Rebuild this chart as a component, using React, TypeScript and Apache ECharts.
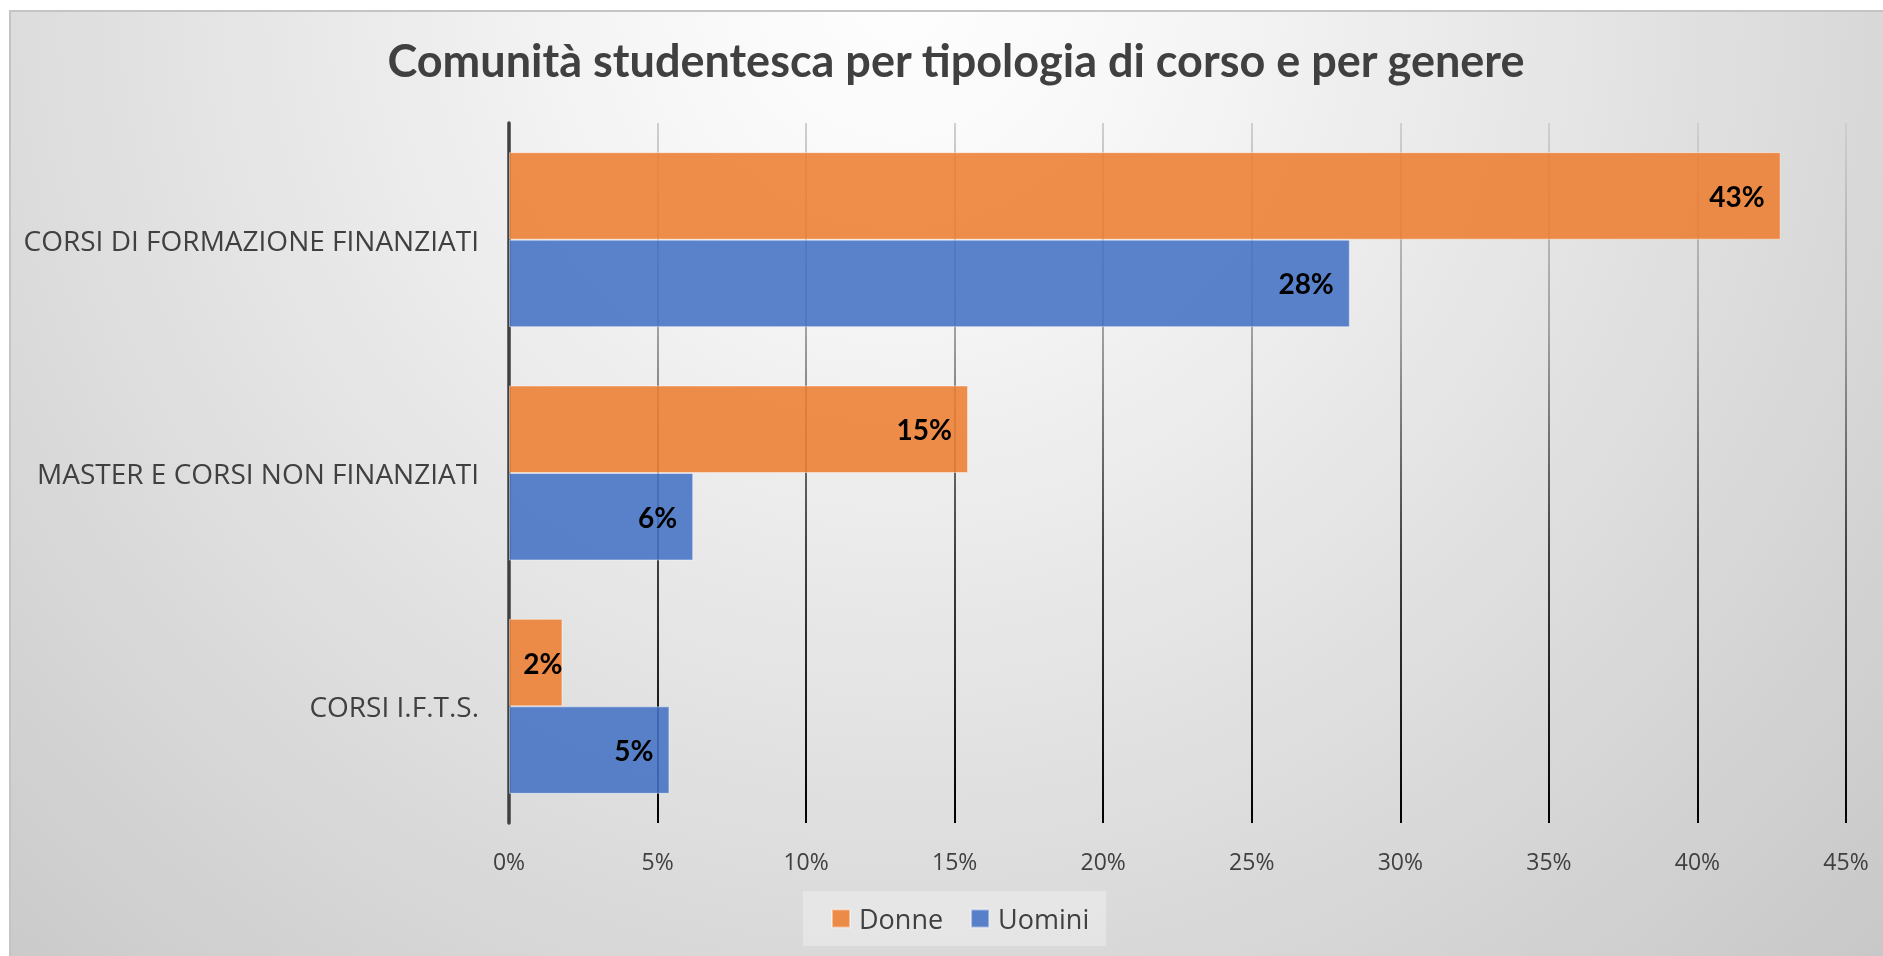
import React, { useEffect, useRef } from "react";
import * as echarts from "echarts";

const categories = [
  "CORSI DI FORMAZIONE FINANZIATI",
  "MASTER E CORSI NON FINANZIATI",
  "CORSI I.F.T.S.",
];
const donne = [42.8, 15.45, 1.8];
const uomini = [28.3, 6.2, 5.4];
const seriesNames = ["Donne", "Uomini"];
const axisMax = 45;
const axisStep = 5;
const titleText = "Comunità studentesca per tipologia di corso e per genere";

export default function App() {
  const ref = useRef<HTMLDivElement>(null);

  useEffect(() => {
    if (!ref.current) return;
    const chart = echarts.init(ref.current, undefined, { renderer: "svg" });

    const gridGrad = new echarts.graphic.LinearGradient(
      0, 115, 0, 815,
      [
        { offset: 0, color: "#cfcfcf" },
        { offset: 0.3, color: "#a0a0a0" },
        { offset: 0.6, color: "#444444" },
        { offset: 1, color: "#000000" },
      ],
      true
    );

    const labelBase = {
      show: true,
      position: "insideRight",
      distance: 16,
      fontFamily: "Lato",
      fontWeight: "bold",
      fontSize: 28,
      color: "#000000",
      formatter: (p: any) => Math.round(p.value) + "%",
    };

    const mkData = (arr: number[]) =>
      arr.map((v) => (v < 3 ? { value: v, label: { distance: 0 } } : v));

    chart.setOption({
      animation: false,
      backgroundColor: "transparent",
      title: {
        text: titleText,
        left: 943,
        top: 24,
        textAlign: "center",
        textStyle: {
          fontFamily: "Lato",
          fontWeight: "bold",
          fontSize: 45,
          color: "#404040",
        },
      },
      legend: {
        data: seriesNames,
        left: 795,
        top: 883,
        padding: [14, 17, 14, 28],
        backgroundColor: "rgba(255,255,255,0.3)",
        itemWidth: 18,
        itemHeight: 18,
        itemGap: 27,
        icon: "rect",
        textStyle: {
          fontFamily: "Open Sans",
          fontSize: 27,
          color: "#404040",
          padding: [0, 0, 0, 4],
        },
      },
      grid: { left: 501, right: 37, top: 115, bottom: 133, containLabel: false },
      xAxis: {
        type: "value",
        min: 0,
        max: axisMax,
        interval: axisStep,
        axisLine: { show: false },
        axisTick: { show: false },
        axisLabel: {
          formatter: "{value}%",
          fontFamily: "Open Sans",
          fontSize: 23,
          color: "#404040",
          margin: 26,
        },
        splitLine: { show: true, lineStyle: { color: gridGrad, width: 2 } },
      },
      yAxis: {
        type: "category",
        data: categories,
        inverse: true,
        axisTick: { show: false },
        axisLine: { show: true, lineStyle: { color: "#404040", width: 3.5 } },
        axisLabel: {
          fontFamily: "Open Sans",
          fontSize: 28,
          color: "#404040",
          margin: 30,
        },
      },
      series: [
        {
          name: seriesNames[0],
          type: "bar",
          data: mkData(donne),
          barGap: "0%",
          barCategoryGap: "25%",
          itemStyle: {
            color: "rgba(237,125,49,0.88)",
            borderColor: "rgba(255,255,255,0.45)",
            borderWidth: 1,
          },
          label: labelBase,
        },
        {
          name: seriesNames[1],
          type: "bar",
          data: mkData(uomini),
          barGap: "0%",
          barCategoryGap: "25%",
          itemStyle: {
            color: "rgba(68,114,196,0.88)",
            borderColor: "rgba(255,255,255,0.45)",
            borderWidth: 1,
          },
          label: labelBase,
        },
      ],
    });

    return () => chart.dispose();
  }, []);

  return (
    <div
      style={{
        position: "fixed",
        left: 8,
        top: 8,
        width: 1875,
        height: 948,
        background:
          "radial-gradient(circle at 892px -8px, #fefefe 0px, #f7f7f7 250px, #c8c8c8 1365px)",
        boxShadow: "inset 1px 2px 0 #ffffff, inset 3px 4px 0 #c4c4c4",
      }}
    >
      <div ref={ref} style={{ width: 1875, height: 948 }} />
    </div>
  );
}
